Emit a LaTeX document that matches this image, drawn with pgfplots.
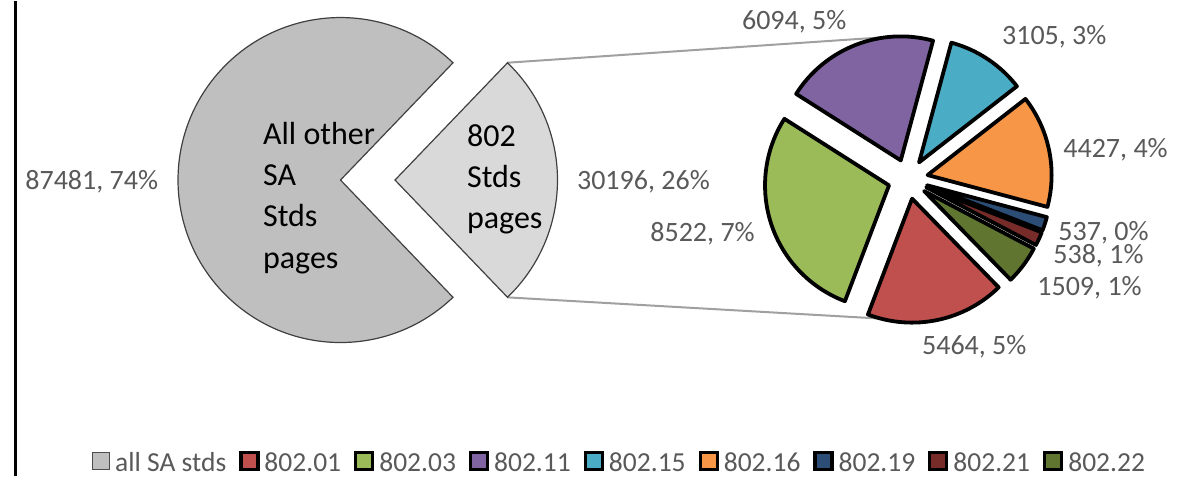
\documentclass[border=0pt]{standalone}
\usepackage{pgfplots}
\pgfplotsset{compat=1.18}
\usepackage{pgfplotstable}
\usetikzlibrary{calc}
\usepackage{fontspec}
\setmainfont{Carlito}

\definecolor{lab}{HTML}{595959}
\definecolor{gA}{HTML}{BFBFBF}
\definecolor{gB}{HTML}{D9D9D9}
\definecolor{conn}{HTML}{A0A0A0}
\definecolor{s1}{HTML}{C0504D}
\definecolor{s2}{HTML}{9BBB59}
\definecolor{s3}{HTML}{8064A2}
\definecolor{s4}{HTML}{4BACC6}
\definecolor{s5}{HTML}{F79646}
\definecolor{s6}{HTML}{2C4D75}
\definecolor{s7}{HTML}{772C2A}
\definecolor{s8}{HTML}{5F7530}

\tikzset{
  lbl/.style={anchor=base west, inner sep=0pt, text=lab, font=\fontsize{14}{16}\selectfont},
  inl/.style={anchor=base west, inner sep=0pt, text=black, font=\fontsize{16}{18}\selectfont},
}

\pgfplotstableread{
name value
other 87481
sub802 30196
}\maindata

\pgfplotstableread{
name value col
802.01 5464 s1
802.03 8522 s2
802.11 6094 s3
802.15 3105 s4
802.16 4427 s5
802.19 537 s6
802.21 538 s7
802.22 1509 s8
}\subdata

% geometry of the second pie (axis units = pixels, 1 px = 0.5pt)
\def\sCx{908}
\def\sCy{177.5}
\def\sR{62pt}
\def\sD{10pt}

\newcommand\pslice[1]{%
  \pgfplotstablegetelem{#1}{col}\of\subdata
  \let\scol\pgfplotsretval
  \edef\temp{\noexpand\filldraw[fill=\scol, draw=black, line width=1.9pt, line join=round]
    ($(axis cs:\sCx,\sCy)+(\csname sM#1\endcsname:\sD)$) -- ++(\csname sA#1\endcsname:\sR)
    arc[start angle=\csname sA#1\endcsname, end angle=\csname sB#1\endcsname, radius=\sR] -- cycle;}%
  \temp}

\begin{document}
\begin{tikzpicture}
% --- computations from the tables ---
\pgfplotstablegetelem{0}{value}\of\maindata \edef\vOther{\pgfplotsretval}%
\pgfplotstablegetelem{1}{value}\of\maindata \edef\vSub{\pgfplotsretval}%
\edef\mHalf{\fpeval{round(180*\vSub/(\vOther+\vSub),4)}}%
\def\sTot{0}%
\pgfplotsforeachungrouped \i in {0,...,7}{%
  \pgfplotstablegetelem{\i}{value}\of\subdata
  \edef\sTot{\fpeval{\sTot+\pgfplotsretval}}}%
\def\cur{-45.7}%
\pgfplotsforeachungrouped \i in {0,...,7}{%
  \pgfplotstablegetelem{\i}{value}\of\subdata
  \edef\nxt{\fpeval{round(\cur-360*\pgfplotsretval/\sTot,4)}}%
  \expandafter\edef\csname sA\i\endcsname{\cur}%
  \expandafter\edef\csname sB\i\endcsname{\nxt}%
  \expandafter\edef\csname sM\i\endcsname{\fpeval{round((\cur+\nxt)/2,4)}}%
  \edef\cur{\nxt}}%
\begin{axis}[
  scale only axis, width=594.5pt, height=237pt,
  xmin=0, xmax=1189, ymin=0, ymax=474, y dir=reverse,
  hide axis, clip=false,
  legend columns=-1,
  legend image code/.code={\draw[#1] (0pt,-3pt) rectangle (8.5pt,5.5pt);},
  legend style={at={(0.521,0.026)}, anchor=center, draw=none, fill=none,
     font=\fontsize{13.75}{16}\selectfont,
     nodes={text=lab, inner xsep=1pt, inner ysep=2pt},
     /tikz/every even column/.append style={column sep=5.5pt},
     /tikz/every odd column/.append style={column sep=1.5pt}},
]
\path (axis cs:0,0) rectangle (axis cs:1189,474);
% left border
\draw[line width=1.5pt] (axis cs:15.5,0) -- (axis cs:15.5,474);
% connector lines
\draw[conn, line width=1pt] (axis cs:507.5,61.2) -- (axis cs:880,36);
\draw[conn, line width=1pt] (axis cs:507.5,295.8) -- (axis cs:880,317);
% first pie
\filldraw[fill=gA, draw=black!75, line width=0.6pt] (axis cs:340.5,178.5) -- ++(\mHalf:81.25pt)
  arc[start angle=\mHalf, end angle=360-\mHalf, radius=81.25pt] -- cycle;
\filldraw[fill=gB, draw=black!75, line width=0.6pt] (axis cs:395,178.5) -- ++(-\mHalf:81.25pt)
  arc[start angle=-\mHalf, end angle=\mHalf, radius=81.25pt] -- cycle;
% second pie
\pgfplotsinvokeforeach{0,...,7}{\pslice{#1}}
% texts inside first pie
\node[inl] at (axis cs:262.7,143.3) {All other};
\node[inl] at (axis cs:262.7,184) {SA};
\node[inl] at (axis cs:262.7,225) {Stds};
\node[inl] at (axis cs:262.7,266.7) {pages};
\node[inl] at (axis cs:466.7,145) {802};
\node[inl] at (axis cs:466.7,185.5) {Stds};
\node[inl] at (axis cs:466.7,226.7) {pages};
% data labels
\node[lbl] at (axis cs:25,188.3) {87481, 74\%};
\node[lbl] at (axis cs:576.7,188) {30196, 26\%};
\node[lbl] at (axis cs:650,240) {8522, 7\%};
\node[lbl] at (axis cs:741.7,28.3) {6094, 5\%};
\node[lbl] at (axis cs:1001.7,43.3) {3105, 3\%};
\node[lbl] at (axis cs:1063,156) {4427, 4\%};
\node[lbl] at (axis cs:1058,239) {537, 0\%};
\node[lbl] at (axis cs:1053,262) {538, 1\%};
\node[lbl] at (axis cs:1037,293.5) {1509, 1\%};
\node[lbl] at (axis cs:921.7,353) {5464, 5\%};
% legend
\addlegendimage{fill=gA, draw=black!70, line width=0.6pt}
\addlegendentry{all SA stds}
\addlegendimage{fill=s1, draw=black, line width=1.6pt}
\addlegendentry{802.01}
\addlegendimage{fill=s2, draw=black, line width=1.6pt}
\addlegendentry{802.03}
\addlegendimage{fill=s3, draw=black, line width=1.6pt}
\addlegendentry{802.11}
\addlegendimage{fill=s4, draw=black, line width=1.6pt}
\addlegendentry{802.15}
\addlegendimage{fill=s5, draw=black, line width=1.6pt}
\addlegendentry{802.16}
\addlegendimage{fill=s6, draw=black, line width=1.6pt}
\addlegendentry{802.19}
\addlegendimage{fill=s7, draw=black, line width=1.6pt}
\addlegendentry{802.21}
\addlegendimage{fill=s8, draw=black, line width=1.6pt}
\addlegendentry{802.22}
\end{axis}
\end{tikzpicture}
\end{document}
